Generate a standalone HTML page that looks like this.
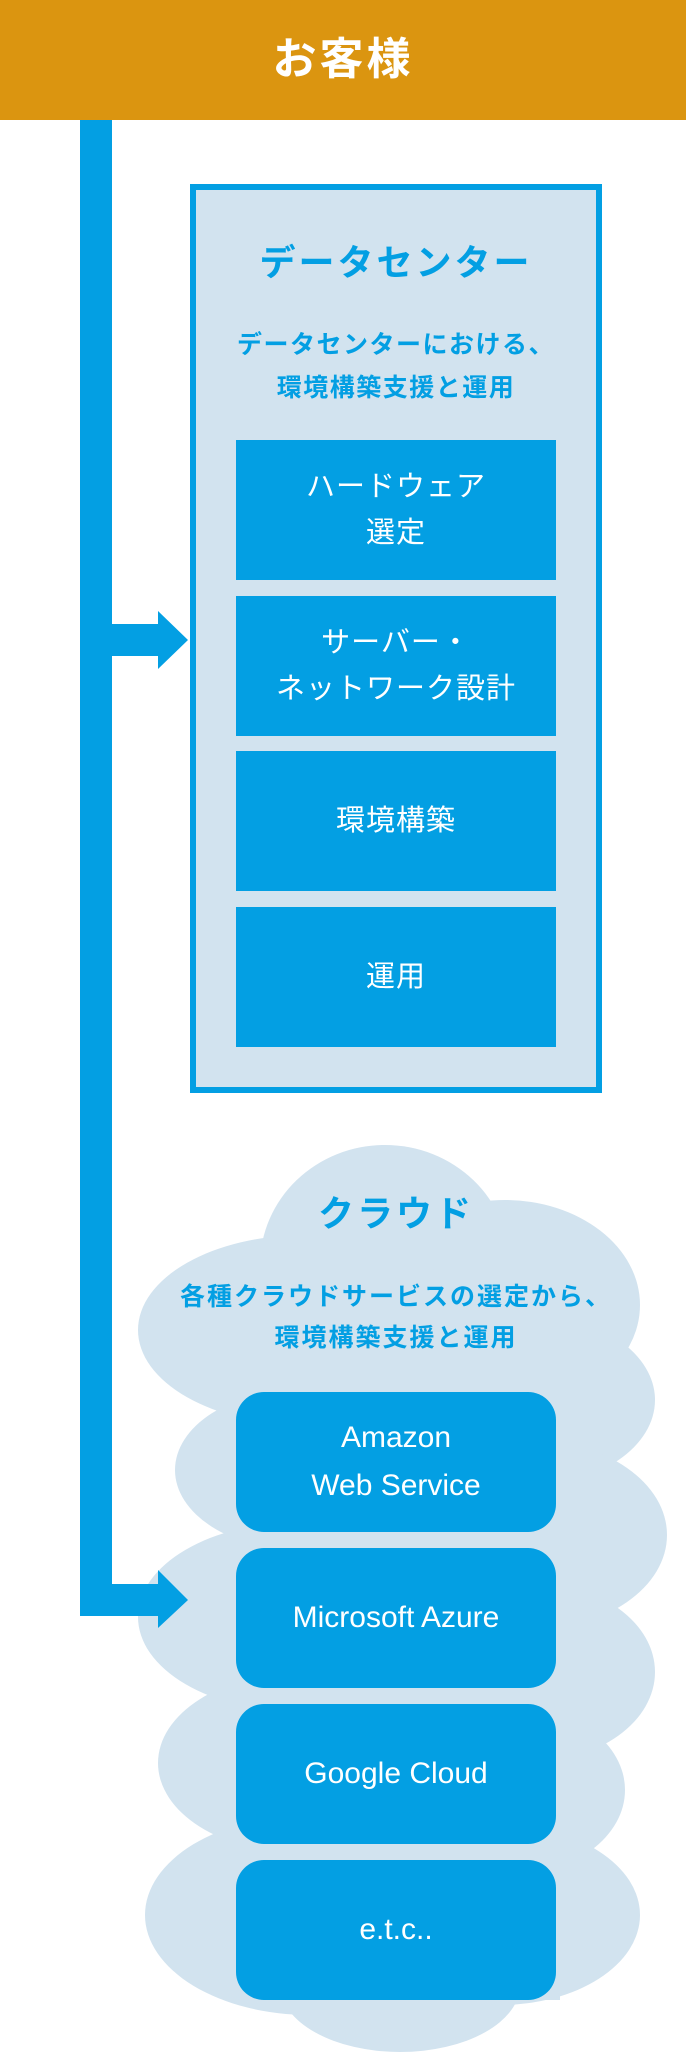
<!DOCTYPE html>
<html><head><meta charset="utf-8"><style>
html,body{margin:0;padding:0;}
body{width:686px;height:2054px;position:relative;background:#fff;overflow:hidden;font-family:"Liberation Sans","Noto Sans CJK JP",sans-serif;}
.a{position:absolute;}
.hdr{left:0;top:0;width:686px;height:120px;background:#DB9510;color:#fff;font-weight:bold;font-size:44px;text-align:center;line-height:120px;letter-spacing:3px;}
.t{position:absolute;left:190px;width:412px;text-align:center;color:#039FE3;font-weight:bold;}
.box{position:absolute;left:236px;width:320px;height:140px;background:#039FE3;color:#fff;display:flex;align-items:center;justify-content:center;text-align:center;font-size:29px;line-height:46px;letter-spacing:1px;}
.cb{border-radius:28px;font-size:30px;line-height:48px;letter-spacing:0;}
</style></head><body>
<div class="a hdr">お客様</div>
<svg class="a" style="left:0;top:0" width="686" height="2054">
<g fill="#D2E3EF">
<ellipse cx="385" cy="1265" rx="125" ry="120"/>
<ellipse cx="505" cy="1305" rx="135" ry="105"/>
<ellipse cx="305" cy="1330" rx="167" ry="95"/>
<ellipse cx="530" cy="1400" rx="125" ry="85"/>
<ellipse cx="530" cy="1535" rx="137" ry="95"/>
<ellipse cx="530" cy="1672" rx="125" ry="90"/>
<ellipse cx="510" cy="1790" rx="115" ry="85"/>
<ellipse cx="500" cy="1915" rx="140" ry="90"/>
<ellipse cx="300" cy="1470" rx="125" ry="80"/>
<ellipse cx="300" cy="1617" rx="162" ry="95"/>
<ellipse cx="300" cy="1763" rx="142" ry="90"/>
<ellipse cx="310" cy="1915" rx="165" ry="100"/>
<ellipse cx="400" cy="1985" rx="120" ry="67"/>
<rect x="240" y="1300" width="320" height="700"/>
</g>
<rect x="193" y="187" width="406" height="903" fill="#D2E3EF" stroke="#039FE3" stroke-width="6"/>
<g fill="#039FE3">
<rect x="80" y="120" width="32" height="1496"/>
<rect x="80" y="624" width="80" height="32"/>
<polygon points="158,611 188,640 158,669"/>
<rect x="80" y="1584" width="80" height="32"/>
<polygon points="158,1570 188,1600 158,1628"/>
</g>
</svg>
<div class="t" style="top:240px;font-size:36px;letter-spacing:3px;line-height:46px;">データセンター</div>
<div class="t" style="top:324px;font-size:25px;letter-spacing:1.5px;line-height:43px;">データセンターにおける、<br>環境構築支援と運用</div>
<div class="box" style="top:440px;">ハードウェア<br>選定</div>
<div class="box" style="top:596px;">サーバー・<br>ネットワーク設計</div>
<div class="box" style="top:751px;">環境構築</div>
<div class="box" style="top:907px;">運用</div>
<div class="t" style="top:1191px;font-size:36px;letter-spacing:3px;line-height:46px;">クラウド</div>
<div class="t" style="left:140px;width:512px;top:1277px;font-size:25px;letter-spacing:2px;line-height:41px;">各種クラウドサービスの選定から、<br>環境構築支援と運用</div>
<div class="box cb" style="top:1392px;">Amazon<br>Web Service</div>
<div class="box cb" style="top:1548px;">Microsoft Azure</div>
<div class="box cb" style="top:1704px;">Google Cloud</div>
<div class="box cb" style="top:1860px;">e.t.c..</div>
</body></html>
